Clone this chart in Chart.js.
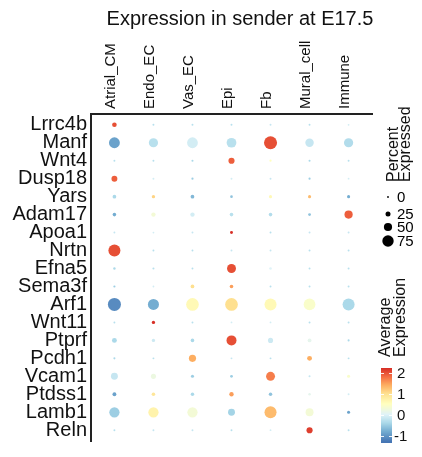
<!DOCTYPE html>
<html>
<head>
<meta charset="utf-8">
<script src="https://cdn.jsdelivr.net/npm/chart.js@4"></script>
<style>
  html, body { margin: 0; padding: 0; background: #fff; }
  #wrap { width: 422px; height: 457px; }
</style>
</head>
<body>
<div id="wrap"><canvas id="chart"></canvas></div>
<script>
// Dot plot data: rows = genes, columns = sender cell types
const cellTypes = ['Atrial_CM', 'Endo_EC', 'Vas_EC', 'Epi', 'Fb', 'Mural_cell', 'Immune'];
const genes = ['Lrrc4b', 'Manf', 'Wnt4', 'Dusp18', 'Yars', 'Adam17', 'Apoa1', 'Nrtn', 'Efna5',
  'Sema3f', 'Arf1', 'Wnt11', 'Ptprf', 'Pcdh1', 'Vcam1', 'Ptdss1', 'Lamb1', 'Reln'];

// average expression (scaled), one row per gene
const avgExp = [
  [2.0, -0.3, -0.3, -0.3, -0.2, -0.3, -0.1],
  [-0.9, -0.3, -0.1, -0.3, 2.0, -0.2, -0.35],
  [-0.3, -0.3, -0.4, 1.9, 0.5, -0.4, -0.3],
  [1.9, -0.1, -0.5, -0.1, -0.2, -0.5, -0.1],
  [-0.4, 1.1, -0.7, -0.6, 0.6, 1.3, -0.8],
  [-0.8, 0.3, -0.1, -0.3, -0.35, -0.6, 1.9],
  [-0.2, -0.1, -0.2, 2.2, -0.3, -0.2, -0.2],
  [2.0, -0.3, -0.3, -0.2, -0.2, -0.3, -0.3],
  [-0.4, -0.3, -0.3, 2.0, 0.0, -0.3, -0.3],
  [-0.5, -0.1, 1.0, 1.5, -0.3, -0.3, -0.3],
  [-1.1, -0.8, 0.6, 1.0, 0.6, 0.4, -0.4],
  [-0.3, 2.2, -0.3, -0.1, -0.1, -0.3, -0.3],
  [-0.4, -0.15, -0.4, 2.0, -0.15, 0.1, -0.4],
  [-0.4, -0.3, 1.4, -0.2, -0.3, 1.4, -0.3],
  [-0.2, 0.2, -0.5, -0.5, 1.7, -0.2, 0.4],
  [-0.9, 0.9, -0.4, 1.5, -0.6, 0.1, -0.1],
  [-0.5, 0.7, 0.3, -0.45, 1.3, 0.3, -0.9],
  [-0.3, -0.2, -0.2, -0.3, -0.1, 2.1, -0.3]
];

// percent of cells expressing, one row per gene
const pctExp = [
  [22, 1, 1, 1, 1, 1, 0],
  [71, 58, 70, 62, 88, 52, 58],
  [1, 1, 2, 34, 3, 2, 1],
  [32, 1, 3, 1, 1, 3, 0],
  [15, 12, 15, 7, 10, 10, 10],
  [14, 20, 20, 14, 14, 8, 50],
  [1, 0, 1, 9, 1, 1, 1],
  [80, 1, 1, 1, 1, 1, 1],
  [5, 2, 1, 56, 6, 1, 1],
  [3, 0, 15, 14, 1, 1, 1],
  [88, 72, 85, 85, 80, 78, 80],
  [1, 12, 1, 0, 0, 1, 1],
  [24, 12, 14, 64, 26, 16, 2],
  [2, 1, 42, 1, 1, 24, 1],
  [40, 26, 10, 8, 56, 2, 10],
  [16, 14, 13, 20, 13, 5, 1],
  [66, 66, 66, 40, 80, 48, 10],
  [1, 1, 1, 1, 0, 34, 1]
];

const sizeBreaks = [0, 25, 50, 75];
const colorBreaks = [2, 1, 0, -1];

function dotRadius(pct) { return 0.9 + pct * 0.064; }

const palette = [
  [-1.3, [69, 117, 180]], [-0.8, [116, 173, 209]], [-0.4, [171, 217, 233]],
  [0, [224, 243, 248]], [0.5, [255, 255, 191]], [1.0, [254, 224, 144]],
  [1.4, [253, 174, 97]], [1.8, [244, 109, 67]], [2.2, [215, 48, 39]]
];
function expColor(v) {
  if (v <= palette[0][0]) return 'rgb(' + palette[0][1].join(',') + ')';
  for (let i = 1; i < palette.length; i++) {
    if (v <= palette[i][0]) {
      const [a, ca] = palette[i - 1], [b, cb] = palette[i];
      const t = (v - a) / (b - a);
      const c = ca.map((x, k) => Math.round(x + (cb[k] - x) * t));
      return 'rgb(' + c.join(',') + ')';
    }
  }
  return 'rgb(' + palette[palette.length - 1][1].join(',') + ')';
}

const points = [];
genes.forEach((g, r) => cellTypes.forEach((c, i) => {
  points.push({ x: i, y: r, r: dotRadius(pctExp[r][i]), v: avgExp[r][i] });
}));

const FONT = '"Liberation Sans", Arial, sans-serif';

function vText(ctx, text, x, yBottom, size) {
  ctx.save();
  ctx.translate(x, yBottom);
  ctx.rotate(-Math.PI / 2);
  ctx.font = size + 'px ' + FONT;
  ctx.textAlign = 'left';
  ctx.textBaseline = 'middle';
  ctx.fillText(text, 0, 0);
  ctx.restore();
}

const extras = {
  id: 'extras',
  afterDraw(chart) {
    const ctx = chart.ctx;
    ctx.save();
    ctx.fillStyle = '#111';
    ctx.font = '20px ' + FONT;
    ctx.textAlign = 'center';
    ctx.textBaseline = 'middle';
    ctx.fillText('Expression in sender at E17.5', 240, 19);

    // size legend
    vText(ctx, 'Percent', 394, 182, 16);
    vText(ctx, 'Expressed', 406, 182, 16);
    const sy = [197, 214, 227, 241];
    sizeBreaks.forEach((p, i) => {
      ctx.beginPath();
      ctx.fillStyle = '#000';
      ctx.arc(388, sy[i], dotRadius(p), 0, Math.PI * 2);
      ctx.fill();
      ctx.font = '15px ' + FONT;
      ctx.textAlign = 'left';
      ctx.fillText(String(p), 397, sy[i] + 1);
    });

    // colour bar
    ctx.fillStyle = '#111';
    vText(ctx, 'Average', 386, 357, 16);
    vText(ctx, 'Expression', 401, 357, 16);
    const yOf = v => 414.5 - 21 * v;
    for (let y = 368; y < 443; y++) {
      ctx.fillStyle = expColor((414.5 - (y + 0.5)) / 21);
      ctx.fillRect(381, y, 11, 1);
    }
    colorBreaks.forEach(v => {
      ctx.strokeStyle = 'rgba(255,255,255,0.9)';
      ctx.lineWidth = 1;
      ctx.beginPath();
      ctx.moveTo(381, Math.round(yOf(v)) + 0.5); ctx.lineTo(384, Math.round(yOf(v)) + 0.5);
      ctx.moveTo(389, Math.round(yOf(v)) + 0.5); ctx.lineTo(392, Math.round(yOf(v)) + 0.5);
      ctx.stroke();
      ctx.fillStyle = '#111';
      ctx.font = '15px ' + FONT;
      ctx.textAlign = 'left';
      ctx.textBaseline = 'middle';
      ctx.fillText(String(v), v < 0 ? 394 : 397, yOf(v) + 1);
    });
    ctx.restore();
  }
};

const ctx = document.getElementById('chart').getContext('2d');
new Chart(ctx, {
  type: 'bubble',
  data: {
    datasets: [{
      data: points,
      backgroundColor: c => expColor(c.raw ? c.raw.v : 0),
      borderWidth: 0
    }]
  },
  options: {
    responsive: true,
    maintainAspectRatio: false,
    animation: false,
    events: [],
    layout: { padding: { top: 0, right: 50, bottom: 7, left: 0 } },
    plugins: { legend: { display: false }, tooltip: { enabled: false } },
    scales: {
      x: {
        type: 'linear',
        position: 'top',
        min: -0.6,
        max: 6.6,
        afterBuildTicks: s => { s.ticks = cellTypes.map((_, i) => ({ value: i })); },
        afterFit: s => { s.height = 114; },
        ticks: {
          callback: v => cellTypes[v],
          minRotation: 90,
          maxRotation: 90,
          autoSkip: false,
          padding: 5,
          labelOffset: 14,
          color: '#111',
          font: { family: FONT, size: 15 }
        },
        grid: { display: false, drawTicks: false },
        border: { display: true, color: '#222', width: 2 }
      },
      y: {
        type: 'linear',
        reverse: true,
        min: -0.6,
        max: 17.6,
        afterBuildTicks: s => { s.ticks = genes.map((_, i) => ({ value: i })); },
        afterFit: s => { s.width = 91; },
        ticks: {
          callback: v => genes[v],
          autoSkip: false,
          padding: 4,
          color: '#111',
          font: { family: FONT, size: 20 }
        },
        grid: { display: false, drawTicks: false },
        border: { display: true, color: '#222', width: 2 }
      }
    }
  },
  plugins: [extras]
});
</script>
</body>
</html>
